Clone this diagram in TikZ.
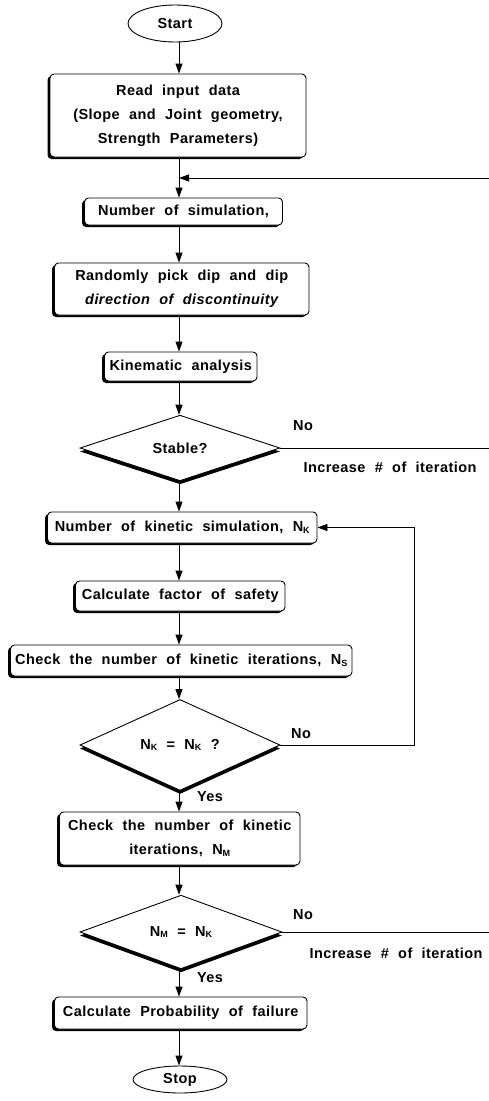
\documentclass[tikz,border=0pt]{standalone}
\usepackage{fontspec}
\setmainfont{Liberation Sans}[LetterSpace=3, WordSpace=2.1]
\usetikzlibrary{shapes.geometric, arrows.meta, shadows, calc}
\newcommand{\lowsub}[1]{\raisebox{-1.5pt}{\fontsize{9}{9}\selectfont #1}}
\begin{document}
\begin{tikzpicture}[x=1pt, y=-1pt,
  font=\fontsize{14.5}{24}\selectfont\bfseries,
  every node/.style={text=black},
  box/.style={draw, rounded corners=4pt, fill=white, line width=0.9pt, inner sep=0pt, align=center,
    general shadow={fill=black, shadow xshift=-2.5pt, shadow yshift=-2pt}},
  dec/.style={diamond, draw, fill=white, line width=0.9pt, inner sep=0pt, minimum width=200pt,
    general shadow={fill=black, shadow yshift=-3.5pt}},
  term/.style={ellipse, draw, fill=white, line width=0.9pt, inner sep=0pt},
  arr/.style={line width=0.9pt, -{Triangle[length=10pt, width=7pt]}},
  ln/.style={line width=0.9pt},
  lab/.style={inner sep=0pt}]
\useasboundingbox (0,0) rectangle (489,1101);
\coordinate (col) at (179,0);
\coordinate (fbx) at (414,0);

\node[term, minimum width=94pt, minimum height=37pt] (start) at (175,23.5) {Start};
\node[box, minimum width=256pt, minimum height=83pt] (read) at (178,115.5)
  {Read input data\\(Slope and Joint geometry,\\Strength Parameters)};
\node[box, minimum width=198pt, minimum height=27pt] (nsim) at (183.5,211.5) {Number of simulation,};
\node[box, minimum width=254.5pt, minimum height=52pt] (rand) at (181.75,289)
  {Randomly pick dip and dip\\\itshape direction of discontinuity};
\node[box, minimum width=152.5pt, minimum height=29pt] (kin) at (180.75,366.5) {Kinematic analysis};
\node[dec, minimum height=58pt] (stable) at (180,448) {Stable?};
\node[box, minimum width=269.5pt, minimum height=31pt] (nkin) at (182.25,527.5)
  {Number of kinetic simulation, N\lowsub{K}};
\node[box, minimum width=209.5pt, minimum height=30pt] (fos) at (180.25,596) {Calculate factor of safety};
\node[box, minimum width=341.5pt, minimum height=31pt] (ns) at (181.25,660.5)
  {Check the number of kinetic iterations, N\lowsub{S}};
\node[dec, minimum height=62pt] (d2) at (180,745) {N\lowsub{K} = N\lowsub{K} ?};
\node[box, minimum width=240.5pt, minimum height=53pt] (nm) at (179.75,838.5)
  {Check the number of kinetic\\iterations, N\lowsub{M}};
\node[dec, minimum width=202pt, minimum height=58pt] (d3) at (181,932) {N\lowsub{M} = N\lowsub{K}};
\node[box, minimum width=252.5pt, minimum height=32pt] (pf) at (180.75,1013) {Calculate Probability of failure};
\node[term, minimum width=94pt, minimum height=27pt] (stop) at (180,1079.5) {Stop};

% main flow
\draw[arr] (start.south -| col) -- (read.north -| col);
\draw[arr] (read.south -| col) -- (nsim.north -| col);
\draw[arr] (nsim.south -| col) -- (rand.north -| col);
\draw[arr] (rand.south -| col) -- (kin.north -| col);
\draw[arr] (kin.south -| col) -- (stable.north -| col);
\draw[arr] (stable.south -| col) -- (nkin.north -| col);
\draw[arr] (nkin.south -| col) -- (fos.north -| col);
\draw[arr] (fos.south -| col) -- (ns.north -| col);
\draw[arr] (ns.south -| col) -- (d2.north -| col);
\draw[arr] (d2.south -| col) -- (nm.north -| col);
\draw[arr] (nm.south -| col) -- (d3.north -| col);
\draw[arr] (d3.south -| col) -- (pf.north -| col);
\draw[arr] (pf.south -| col) -- (stop.north -| col);

% loops
\coordinate (in1) at (489,178);
\draw[arr] (in1) -- (in1 -| col);
\coordinate (out1) at (489,448);
\draw[ln] (stable.east) -- (out1);
\coordinate (out2) at (489,932);
\draw[ln] (d3.east) -- (out2);
\draw[arr] (d2.east) -- (d2.east -| fbx) |- (nkin.east);

% labels
\node[lab] (no1) at (303,426) {No};
\node[lab] (inc1) at (390,467) {Increase \# of iteration};
\node[lab] (no2) at (301,734) {No};
\node[lab] (yes1) at (210,797) {Yes};
\node[lab] (no3) at (303,915) {No};
\node[lab] (inc2) at (396,953) {Increase \# of iteration};
\node[lab] (yes2) at (210,978) {Yes};
\end{tikzpicture}
\end{document}
